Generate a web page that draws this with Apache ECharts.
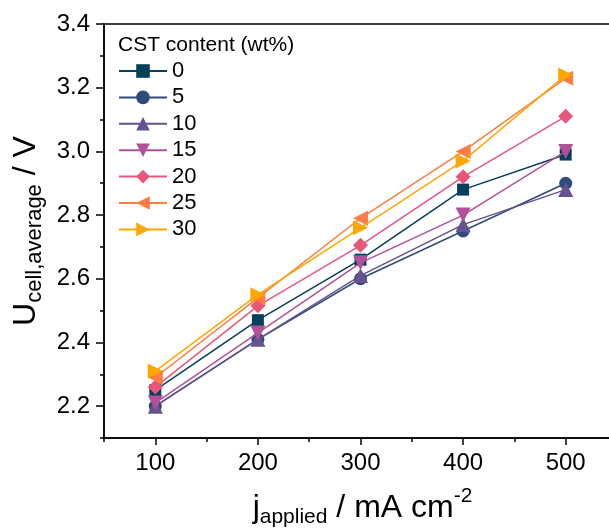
<!DOCTYPE html>
<html>
<head>
<meta charset="utf-8">
<script src="https://cdn.jsdelivr.net/npm/echarts@6/dist/echarts.min.js"></script>
<style>
  html, body { margin: 0; padding: 0; background: #fff; }
  #chart { width: 609px; height: 532px; }
</style>
</head>
<body>
<div id="chart"></div>
<script>
// Applied current density (mA cm^-2)
const currentDensity = [100, 200, 300, 400, 500];

// Average cell voltage (V) for each CST content (wt%)
const cst0  = [2.25, 2.47, 2.66, 2.88, 2.99];
const cst5  = [2.20, 2.41, 2.60, 2.75, 2.90];
const cst10 = [2.20, 2.41, 2.61, 2.77, 2.88];
const cst15 = [2.21, 2.43, 2.65, 2.80, 3.00];
const cst20 = [2.26, 2.515, 2.705, 2.92, 3.11];
const cst25 = [2.29, 2.54, 2.79, 3.00, 3.23];
const cst30 = [2.31, 2.55, 2.76, 2.97, 3.24];

const seriesNames = ['0', '5', '10', '15', '20', '25', '30'];
const seriesValues = [cst0, cst5, cst10, cst15, cst20, cst25, cst30];

// Axis ticks
const xMajorTicks = [100, 200, 300, 400, 500];
const xMinorTicks = [50, 150, 250, 350, 450, 550];
const yMajorTicks = [2.2, 2.4, 2.6, 2.8, 3.0, 3.2, 3.4];
const yMinorTicks = [2.1, 2.3, 2.5, 2.7, 2.9, 3.1, 3.3];

const colors = ['#053f5c', '#2f4b7c', '#665191', '#b0519a', '#e9567c', '#ff7c43', '#ffa600'];
const symbols = ['rect', 'circle', 'triangle', 'triangle', 'diamond', 'triangle', 'triangle'];
const rotations = [0, 0, 0, 180, 0, 90, -90];
const sizes = [12, 13, 15, 15, 15, 15, 15];

const FONT = "'Liberation Sans', Arial, sans-serif";
const X_MIN = 50, X_MAX = 550, Y_MIN = 2.1, Y_MAX = 3.4;

const chart = echarts.init(document.getElementById('chart'), null, { renderer: 'canvas' });

const series = seriesNames.map((name, i) => ({
  name: name,
  type: 'line',
  xAxisIndex: 0,
  yAxisIndex: 0,
  data: currentDensity.map((x, j) => [x, seriesValues[i][j]]),
  symbol: symbols[i],
  symbolRotate: rotations[i],
  symbolSize: sizes[i],
  showAllSymbol: true,
  color: colors[i],
  lineStyle: { width: 1.5, color: colors[i] },
  itemStyle: { color: colors[i] },
  emphasis: { disabled: true },
  animation: false,
  z: 2 + i
}));

const option = {
  animation: false,
  title: {
    text: 'CST content (wt%)',
    left: 118,
    top: 34,
    padding: 0,
    textStyle: { fontFamily: FONT, fontSize: 21, fontWeight: 'normal', color: '#000', lineHeight: 22 }
  },
  legend: {
    orient: 'vertical',
    left: 118,
    top: 60,
    padding: 0,
    itemWidth: 48,
    itemHeight: 17,
    itemGap: 4.4,
    data: seriesNames,
    textStyle: { fontFamily: FONT, fontSize: 22, color: '#000' }
  },
  grid: {
    left: 104,
    top: 24,
    width: 513,
    bottom: 94,
    show: true,
    borderColor: '#000',
    borderWidth: 1.5,
    containLabel: false,
    outerBoundsMode: 'none'
  },
  xAxis: [
    {
      type: 'value',
      min: X_MIN,
      max: X_MAX,
      position: 'bottom',
      splitLine: { show: false },
      axisLine: { show: true, onZero: false, lineStyle: { color: '#000', width: 1.5 } },
      axisTick: { show: true, inside: false, length: 7, customValues: xMajorTicks, lineStyle: { color: '#000', width: 1.5 } },
      axisLabel: { customValues: xMajorTicks, margin: 13, fontFamily: FONT, fontSize: 24, color: '#000' },
      name: '{m|j}{s|applied}{m| / mA cm}{p|-2}',
      nameLocation: 'middle',
      nameGap: 48,
      nameTextStyle: {
        fontFamily: FONT,
        color: '#000',
        padding: [0, 0, 0, 4],
        rich: {
          m: { fontFamily: FONT, fontSize: 32, color: '#000', lineHeight: 38, verticalAlign: 'bottom' },
          s: { fontFamily: FONT, fontSize: 21, color: '#000', lineHeight: 38, verticalAlign: 'bottom', padding: [0, 0, -4, 0] },
          p: { fontFamily: FONT, fontSize: 21, color: '#000', lineHeight: 38, verticalAlign: 'top' }
        }
      }
    },
    {
      type: 'value',
      min: X_MIN,
      max: X_MAX,
      position: 'bottom',
      splitLine: { show: false },
      axisLine: { show: false, onZero: false },
      axisTick: { show: true, inside: false, length: 4, customValues: xMinorTicks, lineStyle: { color: '#000', width: 1.5 } },
      axisLabel: { show: false }
    }
  ],
  yAxis: [
    {
      type: 'value',
      min: Y_MIN,
      max: Y_MAX,
      position: 'left',
      splitLine: { show: false },
      axisLine: { show: true, onZero: false, lineStyle: { color: '#000', width: 1.5 } },
      axisTick: { show: true, inside: false, length: 8, customValues: yMajorTicks, lineStyle: { color: '#000', width: 1.5 } },
      axisLabel: {
        customValues: yMajorTicks,
        margin: 14,
        fontFamily: FONT,
        fontSize: 24,
        color: '#000',
        formatter: v => Number(v).toFixed(1)
      },
      name: '{m|U}{s|cell,average}{m| / V}',
      nameLocation: 'middle',
      nameRotate: 90,
      nameGap: 54,
      nameTextStyle: {
        fontFamily: FONT,
        color: '#000',
        rich: {
          m: { fontFamily: FONT, fontSize: 32, color: '#000', lineHeight: 38, verticalAlign: 'bottom' },
          s: { fontFamily: FONT, fontSize: 22, color: '#000', lineHeight: 38, verticalAlign: 'bottom', padding: [0, 0, -4, 0] }
        }
      }
    },
    {
      type: 'value',
      min: Y_MIN,
      max: Y_MAX,
      position: 'left',
      splitLine: { show: false },
      axisLine: { show: false, onZero: false },
      axisTick: { show: true, inside: false, length: 4, customValues: yMinorTicks, lineStyle: { color: '#000', width: 1.5 } },
      axisLabel: { show: false }
    }
  ],
  series: series
};

chart.setOption(option);
</script>
</body>
</html>
